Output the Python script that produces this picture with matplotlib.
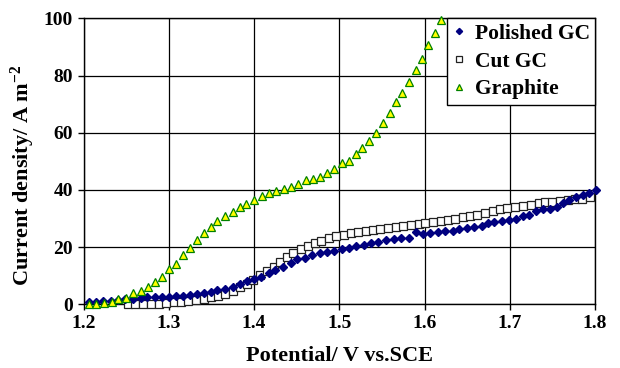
import matplotlib
matplotlib.use("Agg")
import matplotlib.pyplot as plt

plt.rcParams['font.family'] = ['Liberation Serif', 'DejaVu Serif']
plt.rcParams['font.weight'] = 'bold'
plt.rcParams['mathtext.fontset'] = 'custom'
plt.rcParams['mathtext.rm'] = 'Liberation Serif:bold'
plt.rcParams['mathtext.bf'] = 'Liberation Serif:bold'
plt.rcParams['mathtext.default'] = 'bf'

# Polished GC
pol_v = [1.206, 1.215, 1.223, 1.232, 1.241, 1.249, 1.258, 1.267, 1.275, 1.284,
         1.292, 1.300, 1.309, 1.317, 1.325, 1.333, 1.341, 1.349, 1.357, 1.366,
         1.375, 1.383, 1.392, 1.400, 1.408, 1.417, 1.425, 1.434, 1.443, 1.451,
         1.460, 1.468, 1.477, 1.486, 1.494, 1.503, 1.511, 1.520, 1.529, 1.537,
         1.546, 1.555, 1.564, 1.573, 1.582, 1.590, 1.598, 1.607, 1.616, 1.624,
         1.633, 1.641, 1.650, 1.658, 1.667, 1.675, 1.682, 1.691, 1.699, 1.707,
         1.715, 1.723, 1.731, 1.739, 1.747, 1.755, 1.763, 1.770, 1.778, 1.786,
         1.793, 1.801]
pol_j = [0.9, 0.9, 1.1, 1.3, 1.5, 1.9, 2.0, 2.1, 2.4, 2.5,
         2.6, 2.7, 2.9, 3.0, 3.3, 3.5, 3.8, 4.2, 4.9, 5.4,
         6.0, 7.1, 8.3, 9.0, 9.7, 10.8, 12.0, 13.2, 14.3, 15.7,
         16.3, 17.1, 17.8, 18.4, 18.7, 19.3, 19.8, 20.4, 20.8, 21.3,
         21.9, 22.5, 22.8, 23.1, 23.2, 25.2, 24.7, 24.8, 25.3, 25.5,
         25.7, 26.2, 26.6, 27.0, 27.4, 28.3, 28.9, 29.1, 29.5, 29.9,
         30.9, 31.2, 32.7, 33.2, 33.4, 34.1, 35.3, 36.5, 37.6, 38.3,
         39.0, 40.0]

# Cut GC
cut_v = [1.252, 1.260, 1.270, 1.279, 1.288, 1.297, 1.306, 1.314, 1.323, 1.332,
         1.341, 1.349, 1.358, 1.366, 1.375, 1.383, 1.392, 1.399, 1.407, 1.415,
         1.423, 1.431, 1.439, 1.446, 1.455, 1.463, 1.471, 1.479, 1.488, 1.496,
         1.505, 1.514, 1.522, 1.531, 1.540, 1.548, 1.557, 1.566, 1.575, 1.584,
         1.593, 1.601, 1.610, 1.619, 1.627, 1.636, 1.645, 1.653, 1.662, 1.671,
         1.680, 1.688, 1.697, 1.706, 1.716, 1.725, 1.734, 1.741, 1.750, 1.759,
         1.768, 1.777, 1.785, 1.794]
cut_j = [0.0, 0.0, 0.1, 0.1, 0.2, 0.5, 0.7, 0.9, 1.2, 1.5,
         2.0, 2.6, 3.0, 3.6, 4.8, 5.9, 7.1, 8.5, 10.1, 11.7,
         13.2, 14.9, 16.4, 17.8, 19.2, 20.4, 21.3, 22.2, 23.1, 23.9,
         24.3, 24.8, 25.3, 25.7, 26.0, 26.3, 26.7, 26.9, 27.4, 27.7,
         28.1, 28.4, 28.7, 29.1, 29.6, 29.9, 30.4, 30.9, 31.3, 32.0,
         32.6, 33.2, 33.6, 34.0, 34.5, 34.8, 35.3, 35.7, 35.8, 36.0,
         36.4, 36.7, 36.9, 37.4]

# Graphite
gra_v = [1.206, 1.215, 1.224, 1.233, 1.241, 1.250, 1.258, 1.267, 1.276, 1.284,
         1.292, 1.300, 1.308, 1.317, 1.325, 1.333, 1.341, 1.349, 1.357, 1.366,
         1.375, 1.383, 1.391, 1.400, 1.409, 1.418, 1.426, 1.435, 1.443, 1.452,
         1.461, 1.469, 1.477, 1.486, 1.494, 1.503, 1.511, 1.520, 1.527, 1.535,
         1.543, 1.551, 1.559, 1.566, 1.574, 1.582, 1.590, 1.597, 1.604, 1.612,
         1.619]
gra_j = [0.0, 0.1, 0.6, 0.9, 1.7, 2.3, 3.8, 4.8, 6.2, 7.7,
         9.7, 12.2, 14.1, 17.2, 19.6, 22.5, 24.8, 27.1, 29.2, 30.9,
         32.3, 33.9, 35.1, 36.5, 37.9, 39.0, 39.6, 40.3, 41.1, 42.1,
         43.5, 43.9, 44.4, 45.8, 47.3, 49.3, 50.3, 52.6, 54.7, 57.2,
         60.0, 63.3, 66.8, 70.6, 74.0, 77.8, 81.9, 85.8, 90.7, 95.0,
         99.4]

x_ticks = [1.2, 1.3, 1.4, 1.5, 1.6, 1.7, 1.8]
y_ticks = [0, 20, 40, 60, 80, 100]

fig = plt.figure(figsize=(6.2, 3.68), dpi=100)
ax = fig.add_axes([0.1347, 0.173, 0.825, 0.777])

ax.plot(pol_v, pol_j, linestyle='none', marker='D', markersize=4.2,
        color='#000080', markeredgecolor='#000080', label='Polished GC', zorder=4, clip_on=False)
ax.plot(cut_v, cut_j, linestyle='none', marker='s', markersize=5.5,
        markerfacecolor='white', markeredgecolor='#222222', markeredgewidth=0.9,
        label='Cut GC', zorder=3, clip_on=False)
ax.plot(gra_v, gra_j, linestyle='none', marker='^', markersize=5.5,
        markerfacecolor='#FFFF00', markeredgecolor='#008000', markeredgewidth=0.9,
        label='Graphite', zorder=5, clip_on=False)

ax.set_xlim(1.2, 1.8)
ax.set_ylim(0, 100)
ax.set_xticks(x_ticks)
ax.set_yticks(y_ticks)
ax.set_xticklabels([f"{v:.1f}" for v in x_ticks])
ax.set_yticklabels([str(v) for v in y_ticks])
ax.tick_params(axis='both', labelsize=14, direction='out', length=4.5, width=1,
               color='black', pad=3)
ax.grid(True, color='black', linewidth=0.9)
ax.set_axisbelow(True)
for s in ax.spines.values():
    s.set_color('black')
    s.set_linewidth(1.0)

ax.set_xlabel('Potential/ V vs.SCE', fontsize=16, fontweight='bold')
ax.xaxis.set_label_coords(0.5, -0.145)
ax.set_ylabel('Current density/ A m$^{-2}$', fontsize=16, fontweight='bold')
ax.yaxis.set_label_coords(-0.09, 0.45)

leg = ax.legend(loc='upper right', fontsize=15.5, frameon=True, fancybox=False,
                edgecolor='black', framealpha=1, borderaxespad=0, handletextpad=0.35,
                handlelength=0.7, labelspacing=0.36, borderpad=0.25, markerscale=0.75)
leg.get_frame().set_linewidth(1.0)

fig.savefig('out.png', dpi=100)
